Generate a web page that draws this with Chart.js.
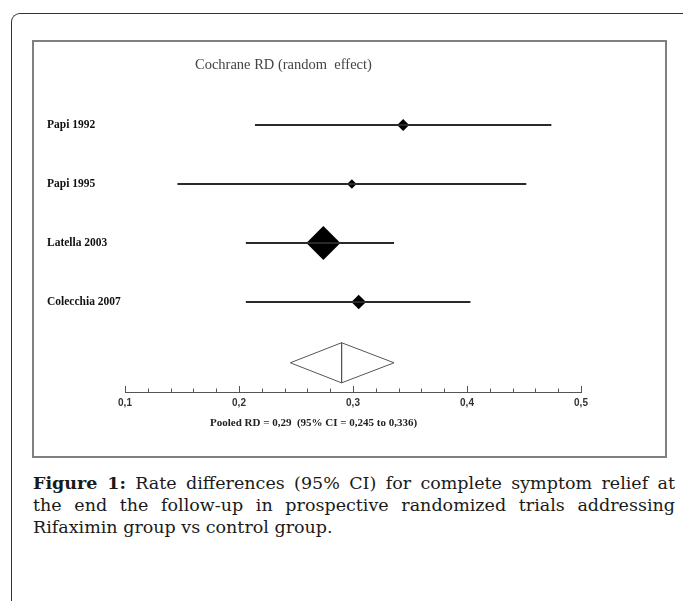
<!DOCTYPE html>
<html>
<head>
<meta charset="utf-8">
<script src="https://cdn.jsdelivr.net/npm/chart.js@4.4.1/dist/chart.umd.min.js"></script>
<style>
  html, body { margin: 0; padding: 0; background: #fff; }
  body { width: 683px; height: 601px; position: relative; overflow: hidden; }
  #frame {
    position: absolute; left: 11px; top: 13px; width: 720px; height: 640px;
    border-left: 1.5px solid #333; border-top: 1.5px solid #333;
    border-top-left-radius: 9px;
  }
  #box {
    position: absolute; left: 32px; top: 40px; width: 631px; height: 414px;
    border: 2px solid #808080;
  }
  #plot { position: absolute; left: 33px; top: 41px; }
  .serif { font-family: "Liberation Serif", "Times New Roman", serif; }
  #title { position: absolute; left: 195px; top: 56px; font-size: 14.5px; color: #444; white-space: pre; }
  #pooled { position: absolute; left: 210px; top: 416px; font-size: 11px; font-weight: bold; color: #222; white-space: pre; }
  #caption {
    position: absolute; left: 33px; top: 472px; width: 642px;
    font-family: "DejaVu Serif", serif; font-size: 17.5px; line-height: 22px; color: #1a1a1a;
  }
  #caption .j { text-align: justify; text-align-last: justify; }
</style>
</head>
<body>
<div id="frame"></div>
<div id="box"></div>
<canvas id="plot" width="633" height="416"></canvas>
<div id="title" class="serif">Cochrane RD (random  effect)</div>
<div id="pooled" class="serif">Pooled RD = 0,29  (95% CI = 0,245 to 0,336)</div>
<div id="caption">
  <div class="j"><b>Figure 1:</b> Rate differences (95% CI) for complete symptom relief at</div>
  <div class="j">the end the follow-up in prospective randomized trials addressing</div>
  <div>Rifaximin group vs control group.</div>
</div>
<script>
const $ = (id) => document.getElementById(id);

// study rows, top to bottom
const studies = ["Papi 1992", "Papi 1995", "Latella 2003", "Colecchia 2007"];
const rd = [0.344, 0.299, 0.274, 0.305];
const ciLow = [0.214, 0.146, 0.206, 0.206];
const ciHigh = [0.474, 0.452, 0.336, 0.403];

// pooled estimate (random effect)
const pooledRD = 0.29;
const pooledLow = 0.245;
const pooledHigh = 0.336;

// x axis
const xTicks = [0.1, 0.2, 0.3, 0.4, 0.5];
const xMinorTicks = [0.12, 0.14, 0.16, 0.18, 0.22, 0.24, 0.26, 0.28,
                     0.32, 0.34, 0.36, 0.38, 0.42, 0.44, 0.46, 0.48];

// layout bits (not data)
const pooledRow = 4.03;
const diamondHalf = 0.34;
const markerRadius = [6, 4.7, 17, 7.3];

const axisTicks = {
  id: "axisTicks",
  afterDraw(chart) {
    const { ctx, chartArea, scales: { x } } = chart;
    const y0 = chartArea.bottom;
    ctx.save();
    ctx.strokeStyle = "#555";
    ctx.lineWidth = 1;
    ctx.beginPath();
    xTicks.forEach((v) => {
      const px = Math.round(x.getPixelForValue(v)) + 0.5;
      ctx.moveTo(px, y0);
      ctx.lineTo(px, y0 - 6);
    });
    xMinorTicks.forEach((v) => {
      const px = Math.round(x.getPixelForValue(v)) + 0.5;
      ctx.moveTo(px, y0);
      ctx.lineTo(px, y0 - 3.5);
    });
    ctx.stroke();
    ctx.restore();
  }
};

function buildChart() {
  const ciLines = studies.map((s, i) => ({
    label: s + " CI",
    data: [{ x: ciLow[i], y: i }, { x: ciHigh[i], y: i }],
    showLine: true,
    borderColor: "#2a2a2a",
    borderWidth: 2,
    pointRadius: 0,
  }));

  const points = {
    label: "RD",
    data: rd.map((v, i) => ({ x: v, y: i })),
    pointStyle: "rectRot",
    pointRadius: markerRadius,
    backgroundColor: "#000",
    borderWidth: 0,
  };

  const pooledDiamond = {
    label: "Pooled",
    data: [
      { x: pooledLow, y: pooledRow },
      { x: pooledRD, y: pooledRow - diamondHalf },
      { x: pooledHigh, y: pooledRow },
      { x: pooledRD, y: pooledRow + diamondHalf },
      { x: pooledLow, y: pooledRow },
    ],
    showLine: true,
    borderColor: "#555",
    borderWidth: 1,
    pointRadius: 0,
    tension: 0,
  };

  const pooledMid = {
    label: "Pooled RD",
    data: [{ x: pooledRD, y: pooledRow - diamondHalf }, { x: pooledRD, y: pooledRow + diamondHalf }],
    showLine: true,
    borderColor: "#555",
    borderWidth: 1,
    pointRadius: 0,
  };

  return new Chart($("plot").getContext("2d"), {
    type: "scatter",
    data: { datasets: [...ciLines, points, pooledDiamond, pooledMid] },
    options: {
      responsive: false,
      animation: false,
      devicePixelRatio: 1,
      layout: { padding: { left: 14, right: 85, top: 54.5, bottom: 35 } },
      plugins: { legend: { display: false }, tooltip: { enabled: false } },
      scales: {
        x: {
          type: "linear",
          min: 0.1,
          max: 0.5,
          afterBuildTicks: (s) => { s.ticks = xTicks.map((v) => ({ value: v })); },
          afterFit: (s) => { s.height = 30; },
          ticks: {
            callback: (v) => v.toFixed(1).replace(".", ","),
            font: { family: "Liberation Sans", weight: "bold", size: 10 },
            color: "#333",
            padding: 5,
            maxRotation: 0,
            autoSkip: false,
          },
          grid: { display: false, drawTicks: false },
          border: { display: true, color: "#555", width: 1 },
        },
        y: {
          type: "linear",
          reverse: true,
          min: -0.5,
          max: 4.525,
          afterBuildTicks: (s) => { s.ticks = studies.map((_, i) => ({ value: i })); },
          afterFit: (s) => { s.width = 78; },
          ticks: {
            callback: (v) => studies[v],
            font: { family: "Liberation Serif", weight: "bold", size: 11.5 },
            color: "#111",
            crossAlign: "far",
            padding: 0,
            autoSkip: false,
          },
          grid: { display: false, drawTicks: false },
          border: { display: false },
        },
      },
    },
    plugins: [axisTicks],
  });
}

document.addEventListener("DOMContentLoaded", buildChart);
</script>
</body>
</html>
